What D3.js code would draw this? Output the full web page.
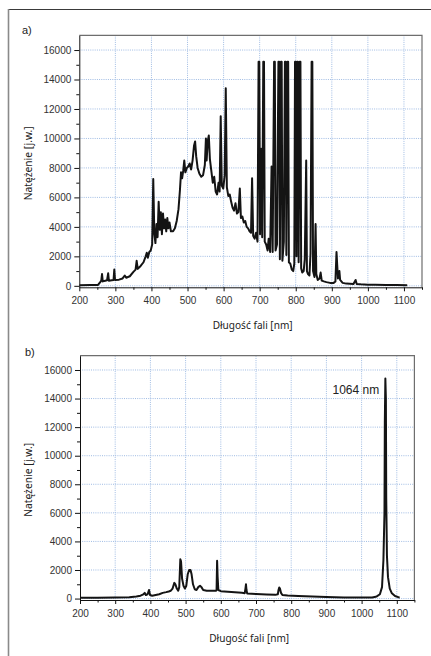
<!DOCTYPE html>
<html>
<head>
<meta charset="utf-8">
<script src="https://cdn.jsdelivr.net/npm/d3@7"></script>
<style>
  body { margin: 0; background: #fff; }
  svg { display: block; }
</style>
</head>
<body>
<script>
// spectrum a) - wavelength [nm] and intensity
var waveA = [200, 230, 252, 258, 261, 263, 265, 272, 277, 280, 282, 290, 295, 297, 299, 310, 320, 326, 330, 340,
  350, 356, 359, 362, 370, 378, 384, 387, 390, 394, 398, 402, 405, 408, 411, 414, 417, 420, 423, 426,
  429, 432, 435, 438, 441, 444, 447, 450, 454, 460, 465, 470, 475, 479, 482, 485, 488, 491, 494, 498,
  502, 506, 510, 514, 518, 521, 524, 528, 533, 538, 543, 548, 551, 553, 556, 559, 562, 566, 570, 574,
  578, 582, 586, 589, 592, 595, 599, 603, 606, 609, 613, 617, 621, 625, 629, 633, 637, 641, 645, 648,
  652, 656, 660, 664, 668, 672, 676, 679, 682, 686, 690, 694, 697, 699, 701, 704, 707, 710, 712, 714,
  718, 722, 725, 729, 733, 736, 740, 742, 744, 748, 752, 754, 756, 759, 761, 763, 767, 770, 772, 774,
  777, 779, 781, 785, 789, 793, 796, 798, 800, 802, 804, 806, 808, 811, 813, 815, 818, 822, 825, 829,
  831, 834, 838, 841, 844, 846, 848, 852, 855, 857, 861, 866, 869, 872, 878, 885, 895, 905, 910, 913,
  915, 917, 921, 923, 930, 940, 960, 966, 969, 980, 1000, 1020, 1050, 1080, 1109];
var intensA = [40, 50, 60, 250, 350, 800, 300, 350, 380, 850, 350, 380, 400, 1100, 400, 420, 500, 700, 550, 650,
  950, 1100, 1700, 1150, 1350, 1600, 2000, 2250, 1900, 2300, 2400, 2800, 7250, 3500, 2900, 4200, 3300, 5700, 3800, 5000,
  3500, 4900, 3900, 4500, 3700, 4600, 3900, 4300, 3700, 3700, 3900, 4400, 5200, 6500, 7700, 7300, 7800, 8500, 7700, 8000,
  8100, 8300, 7900, 8500, 9500, 9800, 8800, 8000, 7600, 7400, 7500, 8200, 10000, 8500, 9800, 10200, 8600, 7800, 7000, 7400,
  6400, 6200, 7000, 6400, 11500, 6800, 6600, 7500, 13400, 6700, 6100, 6200, 5700, 5300, 5100, 5600, 4900, 5000, 6600, 4600,
  4700, 4300, 4400, 4000, 3900, 3700, 3600, 7300, 3400, 3200, 3600, 3000, 15200, 15200, 3500, 9300, 3300, 15200, 15200, 3000,
  2800, 2400, 3200, 2300, 8100, 2300, 15200, 15200, 2400, 2800, 15200, 15200, 1800, 15200, 15200, 1700, 3000, 15200, 15200, 2100,
  15200, 15200, 1600, 1500, 1100, 1000, 1500, 15200, 15200, 2000, 15200, 15200, 1600, 15200, 15200, 1200, 900, 1000, 1800, 8500,
  1000, 800, 700, 2200, 15200, 15200, 1000, 600, 4200, 800, 400, 500, 900, 350, 300, 250, 200, 200, 300, 2300,
  1400, 500, 1000, 400, 200, 150, 120, 400, 130, 100, 80, 70, 60, 50, 40];

// spectrum b)
var waveB = [200, 250, 300, 340, 360, 372, 380, 384, 387, 392, 396, 399, 405, 415, 425, 435, 445, 452, 458, 463,
  468, 471, 475, 479, 482, 485, 487, 490, 494, 498, 502, 506, 510, 514, 517, 521, 526, 531, 536, 541,
  545, 550, 560, 575, 586, 588, 589.5, 591, 593, 600, 620, 640, 660, 668, 670, 671.5, 673, 675, 700, 730,
  755, 762, 764, 766, 768, 771, 775, 790, 820, 860, 900, 950, 1000, 1030, 1043, 1052, 1058, 1062, 1065, 1066,
  1067.5, 1069, 1070, 1072, 1075, 1080, 1086, 1095, 1104, 1108];
var intensB = [60, 50, 70, 90, 150, 200, 300, 400, 250, 300, 600, 250, 200, 250, 300, 400, 450, 500, 550, 700,
  1100, 1000, 700, 550, 800, 2750, 2600, 1400, 900, 700, 900, 1700, 2000, 2000, 1700, 1000, 650, 600, 800, 900,
  800, 600, 550, 550, 540, 600, 2650, 1500, 600, 520, 480, 440, 400, 380, 700, 1000, 600, 350, 320, 280,
  260, 300, 600, 780, 700, 400, 250, 220, 180, 140, 110, 80, 70, 80, 150, 300, 800, 2700, 6000, 12400,
  15400, 14000, 7000, 3000, 1500, 700, 370, 180, 100, 60];

var xTicks = [200, 300, 400, 500, 600, 700, 800, 900, 1000, 1100];
var xMinor = [250, 350, 450, 550, 650, 750, 850, 950, 1050, 1150];
var yTicks = [0, 2000, 4000, 6000, 8000, 10000, 12000, 14000, 16000];
var yMinor = [1000, 3000, 5000, 7000, 9000, 11000, 13000, 15000];

var width = 431, height = 656;

var svg = d3.select('body').append('svg')
  .attr('width', width)
  .attr('height', height);

// page frame (top and left rules)
svg.append('line').attr('x1', 8.5).attr('x2', width).attr('y1', 9.5).attr('y2', 9.5)
  .attr('stroke', '#3a3a3a').attr('stroke-width', 1);
svg.append('line').attr('x1', 8.5).attr('x2', 8.5).attr('y1', 9).attr('y2', height)
  .attr('stroke', '#8a8a8a').attr('stroke-width', 1.6);

var panels = [
  { id: 'a', tag: 'a)', tagX: 22, tagY: 34, left: 79.3, right: 422, top: 35.3, bottom: 287.3,
    wave: waveA, intens: intensA, titleY: 329 },
  { id: 'b', tag: 'b)', tagX: 25, tagY: 356, left: 80, right: 414.4, top: 355.7, bottom: 600,
    wave: waveB, intens: intensB, titleY: 641.5, note: '1064 nm', noteX: 332.5, noteY: 394 }
];

panels.forEach(drawPanel);

function drawPanel(p) {
  var x = d3.scaleLinear().domain([200, 1150]).range([p.left, p.right]);
  var y = d3.scaleLinear().domain([-100, 17000]).range([p.bottom, p.top]);

  var g = svg.append('g');

  // dotted grid
  g.append('g').selectAll('line').data(xTicks.slice(1)).join('line')
    .attr('x1', d => x(d)).attr('x2', d => x(d))
    .attr('y1', p.top).attr('y2', p.bottom)
    .attr('stroke', '#9fbbe3').attr('stroke-width', 1).attr('stroke-dasharray', '1,1.2');
  g.append('g').selectAll('line').data(yTicks).join('line')
    .attr('x1', p.left).attr('x2', p.right)
    .attr('y1', d => y(d)).attr('y2', d => y(d))
    .attr('stroke', '#9fbbe3').attr('stroke-width', 1).attr('stroke-dasharray', '1,1.2');

  // frame top/right
  g.append('path')
    .attr('d', 'M' + p.left + ',' + p.top + 'H' + p.right + 'V' + p.bottom)
    .attr('fill', 'none').attr('stroke', '#6e6e6e').attr('stroke-width', 1.2);

  // data line
  g.append('clipPath').attr('id', 'clip-' + p.id).append('rect')
    .attr('x', p.left).attr('y', p.top).attr('width', p.right - p.left).attr('height', p.bottom - p.top);

  var line = d3.line()
    .x(d => x(d[0]))
    .y(d => y(d[1]));

  g.append('path')
    .datum(d3.zip(p.wave, p.intens))
    .attr('clip-path', 'url(#clip-' + p.id + ')')
    .attr('d', line)
    .attr('fill', 'none')
    .attr('stroke', '#141414')
    .attr('stroke-width', 2)
    .attr('stroke-linejoin', 'round');

  // axes
  g.append('g').attr('transform', 'translate(0,' + p.bottom + ')')
    .call(d3.axisBottom(x).tickValues(xTicks).tickSize(4).tickSizeOuter(0).tickPadding(5.5).tickFormat(d3.format('d')));
  g.append('g').attr('transform', 'translate(0,' + p.bottom + ')')
    .call(d3.axisBottom(x).tickValues(xMinor).tickSize(2.5).tickFormat('')).select('.domain').remove();
  g.append('g').attr('transform', 'translate(' + p.left + ',0)')
    .call(d3.axisLeft(y).tickValues(yTicks).tickSize(5).tickSizeOuter(0).tickPadding(3).tickFormat(d3.format('d')));
  g.append('g').attr('transform', 'translate(' + p.left + ',0)')
    .call(d3.axisLeft(y).tickValues(yMinor).tickSize(3).tickFormat('')).select('.domain').remove();

  g.selectAll('.tick text')
    .attr('font-family', '"Liberation Sans", Arial, sans-serif')
    .attr('font-size', 10)
    .attr('fill', '#333');
  g.selectAll('.domain, .tick line').attr('stroke', '#111');

  // labels
  svg.append('text').text(p.tag)
    .attr('x', p.tagX).attr('y', p.tagY)
    .attr('font-family', '"Liberation Sans", Arial, sans-serif')
    .attr('font-size', 11).attr('fill', '#222');

  svg.append('text').text('Długość fali [nm]')
    .attr('x', (p.left + p.right) / 2 + 2).attr('y', p.titleY)
    .attr('text-anchor', 'middle')
    .attr('font-family', '"Noto Sans", sans-serif')
    .attr('font-size', 11.5).attr('fill', '#222')
    .attr('textLength', 80).attr('lengthAdjust', 'spacingAndGlyphs');

  svg.append('text').text('Natężenie [j.w.]')
    .attr('transform', 'translate(32,' + ((p.top + p.bottom) / 2 + 2) + ') rotate(-90)')
    .attr('text-anchor', 'middle')
    .attr('font-family', '"Noto Sans", sans-serif')
    .attr('font-size', 11.5).attr('fill', '#222')
    .attr('textLength', 74).attr('lengthAdjust', 'spacingAndGlyphs');

  if (p.note) {
    svg.append('text').text(p.note)
      .attr('x', p.noteX).attr('y', p.noteY)
      .attr('font-family', '"Liberation Sans", Arial, sans-serif')
      .attr('font-size', 12).attr('fill', '#222');
  }
}
</script>
</body>
</html>
